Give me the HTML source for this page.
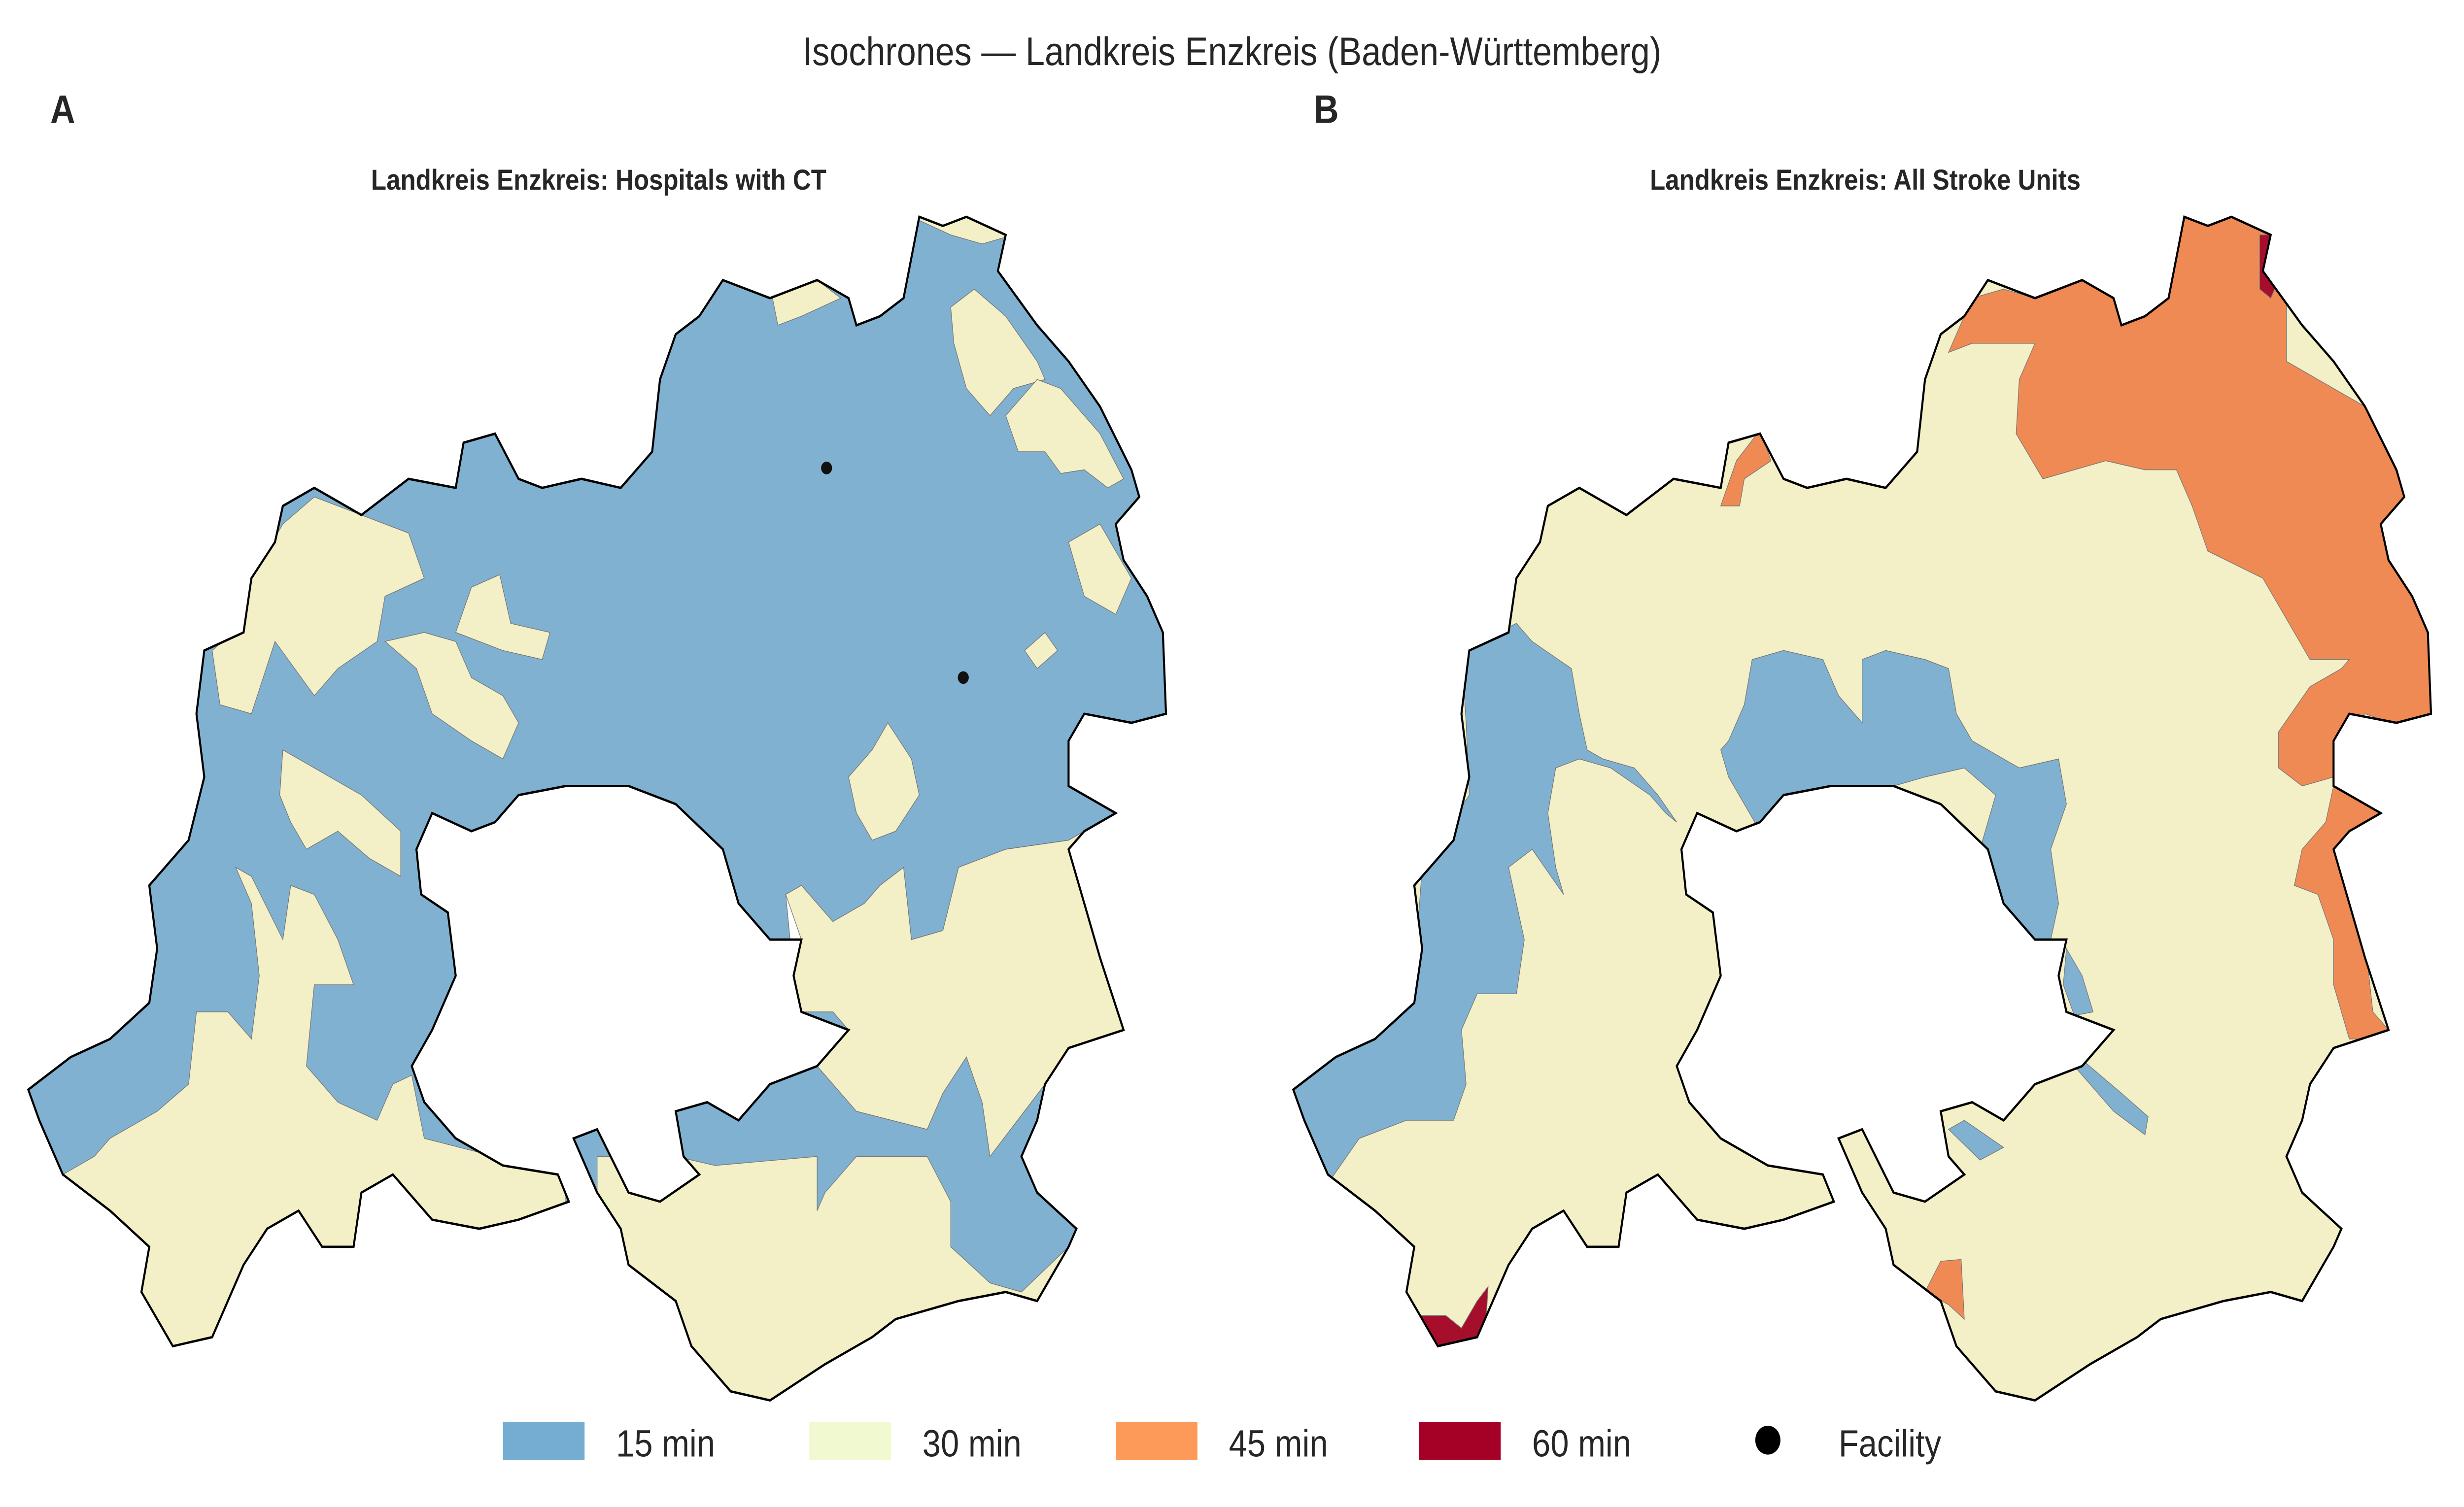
<!DOCTYPE html>
<html><head><meta charset="utf-8"><style>
html,body{margin:0;padding:0;background:#fff;width:100%;height:100%;overflow:hidden}
svg{display:block;width:100vw;height:100vh}
text{font-family:"Liberation Sans",sans-serif;fill:#262626}
</style></head><body>
<svg id="fig" viewBox="0 0 1568 834" preserveAspectRatio="none" xmlns="http://www.w3.org/2000/svg">
<text x="784" y="36" text-anchor="middle" font-size="22">Isochrones — Landkreis Enzkreis (Baden-Württemberg)</text>
<text x="32" y="68" font-size="22" font-weight="bold">A</text>
<text x="836" y="68" font-size="22" font-weight="bold">B</text>
<text x="381" y="105" text-anchor="middle" font-size="16" font-weight="bold">Landkreis Enzkreis: Hospitals with CT</text>
<text x="1187" y="105" text-anchor="middle" font-size="16" font-weight="bold">Landkreis Enzkreis: All Stroke Units</text>
<defs><clipPath id="clipA"><polygon id="outlinePts"/></clipPath></defs>
<g id="mapA" clip-path="url(#clipA)"></g>
<g id="mapB" transform="translate(805,0)"><g id="mapBin" clip-path="url(#clipA)"></g></g>
<g id="legend"></g>
</svg>
<script>
const NS='http://www.w3.org/2000/svg';
const outline=[[18,603],[45,585],[70,575],[95,555],[100,525],[95,490],[120,465],[130,430],[125,395],[130,360],[155,350],[160,320],[175,300],[180,280],[200,270],[230,285],[260,265],[290,270],[295,245],[315,240],[330,265],[345,270],[370,265],[395,270],[415,250],[420,210],[430,185],[445,175],[460,155],[490,165],[520,155],[540,165],[545,180],[560,175],[575,165],[585,120],[600,125],[615,120],[640,130],[635,150],[660,180],[680,200],[700,225],[720,260],[725,275],[710,290],[715,310],[730,330],[740,350],[742,395],[720,400],[690,395],[680,410],[680,435],[710,450],[690,460],[680,470],[690,500],[700,530],[715,570],[680,580],[665,600],[660,620],[650,640],[660,660],[685,680],[680,690],[660,720],[640,715],[610,720],[570,730],[555,740],[525,755],[490,775],[465,770],[440,745],[430,720],[400,700],[395,680],[380,660],[365,630],[380,625],[400,660],[420,665],[445,650],[435,640],[430,615],[450,610],[470,620],[490,600],[520,590],[540,570],[510,560],[505,540],[510,520],[490,520],[470,500],[460,470],[430,445],[400,435],[360,435],[330,440],[315,455],[300,460],[275,450],[265,470],[268,495],[285,505],[290,540],[275,570],[262,590],[270,610],[290,630],[320,645],[355,650],[362,665],[330,675],[305,680],[275,675],[250,650],[230,660],[225,690],[205,690],[190,670],[170,680],[155,700],[145,720],[135,740],[110,745],[90,715],[95,690],[70,670],[40,650],[25,620]];
const categories=['15 min','30 min','45 min','60 min'];
const fillColors=['#80b1d0','#f3efc6','#f08a55','#a50f2c'];
const legendColors=['#74add1','#f0f9d0','#fd9a5a','#a50026'];
const facilities=[[526,259],[613,375]];
const zonesA=[
[0,[[10,100],[750,100],[750,470],[700,455],[680,465],[640,470],[610,480],[600,515],[580,520],[575,480],[560,490],[550,500],[530,510],[510,490],[500,495],[505,540],[510,560],[530,560],[540,570],[520,590],[545,615],[590,625],[600,605],[615,585],[625,610],[630,640],[665,600],[700,660],[700,780],[10,780]]],
[1,[[135,360],[155,345],[160,320],[180,290],[200,275],[230,285],[260,295],[270,320],[245,330],[240,355],[215,370],[200,385],[175,355],[160,395],[140,390]]],
[1,[[245,355],[270,350],[290,355],[300,375],[320,385],[330,400],[320,420],[300,410],[275,395],[265,370]]],
[1,[[290,350],[300,325],[318,318],[325,345],[350,350],[345,365],[320,360]]],
[1,[[180,415],[200,425],[230,440],[255,460],[255,485],[235,475],[215,460],[195,470],[185,455],[178,440]]],
[1,[[10,660],[40,650],[60,640],[70,630],[100,615],[120,600],[125,560],[145,560],[160,575],[165,540],[160,500],[150,480],[160,485],[180,520],[185,490],[200,495],[215,520],[225,545],[200,545],[195,590],[215,610],[240,620],[250,600],[262,595],[270,630],[360,650],[360,780],[10,780]]],
[1,[[580,120],[620,115],[645,130],[625,135],[605,130]]],
[1,[[490,158],[520,155],[535,165],[510,175],[495,180]]],
[1,[[605,170],[620,160],[640,175],[660,200],[665,210],[645,215],[630,230],[615,215],[607,190]]],
[1,[[640,230],[660,210],[675,215],[700,240],[715,265],[705,270],[690,260],[675,262],[665,250],[648,250]]],
[1,[[680,300],[700,290],[720,320],[710,340],[690,330]]],
[1,[[652,360],[665,350],[673,360],[660,370]]],
[1,[[540,430],[555,415],[565,400],[580,420],[585,440],[570,460],[555,465],[545,450]]],
[1,[[500,495],[510,490],[530,510],[550,500],[560,490],[575,480],[580,520],[600,515],[610,480],[640,470],[680,465],[700,455],[690,500],[715,570],[680,580],[665,600],[630,640],[625,610],[615,585],[600,605],[590,625],[545,615],[520,590],[540,570],[530,560],[510,560],[505,540],[510,520]]],
[1,[[380,640],[430,640],[455,645],[520,640],[520,670],[525,660],[545,640],[590,640],[605,665],[605,690],[630,710],[650,715],[680,690],[700,700],[700,780],[380,780]]]
];
const zonesB=[
[1,[[10,100],[750,100],[750,780],[10,780]]],
[2,[[435,195],[450,165],[470,160],[490,165],[520,155],[540,165],[560,175],[575,165],[580,115],[650,115],[650,200],[700,225],[720,260],[725,275],[710,290],[715,310],[735,330],[750,350],[750,410],[700,395],[685,405],[680,430],[660,435],[645,425],[645,405],[665,380],[685,370],[690,365],[665,365],[655,350],[635,320],[600,305],[590,280],[580,260],[560,260],[535,255],[495,265],[478,240],[480,210],[490,190],[450,190]]],
[2,[[680,435],[700,440],[715,450],[695,470],[690,500],[700,520],[705,560],[720,575],[690,575],[680,545],[680,520],[670,495],[655,490],[660,470],[675,455]]],
[2,[[290,280],[300,255],[315,238],[322,255],[305,265],[302,280]]],
[2,[[420,715],[430,698],[443,697],[445,730],[435,722]]],
[3,[[633,130],[650,130],[650,145],[640,165],[633,160]]],
[3,[[98,728],[115,728],[125,735],[135,720],[142,712],[140,740],[125,750],[105,748]]],
[0,[[125,360],[160,345],[170,355],[195,370],[200,395],[205,415],[215,420],[235,425],[250,440],[262,455],[255,450],[245,440],[220,425],[200,420],[185,425],[180,450],[185,480],[190,495],[170,470],[155,480],[165,520],[160,550],[135,550],[125,570],[128,600],[120,620],[90,620],[60,630],[40,655],[10,620],[10,600],[60,575],[95,540],[100,480],[130,440],[128,400]]],
[0,[[295,410],[305,390],[310,365],[330,360],[355,365],[365,385],[380,400],[380,365],[395,360],[420,365],[435,370],[440,395],[450,410],[470,420],[480,425],[505,420],[510,445],[500,470],[505,500],[500,520],[490,520],[470,500],[455,470],[465,440],[445,425],[420,430],[400,435],[360,435],[330,440],[315,460],[305,445],[295,430],[290,415]]],
[0,[[510,525],[520,540],[527,560],[515,562],[508,545]]],
[0,[[515,590],[522,588],[545,605],[562,618],[560,628],[540,615]]],
[0,[[435,625],[445,620],[470,635],[455,642]]]
];
const pts=p=>p.map(q=>q.join(',')).join(' ');
document.getElementById('outlinePts').setAttribute('points',pts(outline));
function drawZones(g,zones,name){
  zones.forEach((z,i)=>{
    const el=document.createElementNS(NS,'polygon');
    el.setAttribute('points',pts(z[1]));
    el.setAttribute('fill',fillColors[z[0]]);
    el.setAttribute('stroke','#777');el.setAttribute('stroke-width','0.4');
    
    
    g.appendChild(el);
  });
}
function drawOutline(g,name){
  const o=document.createElementNS(NS,'polygon');
  o.setAttribute('points',pts(outline));
  o.setAttribute('fill','none');o.setAttribute('stroke','#000');o.setAttribute('stroke-width','1.3');
  
  
  g.appendChild(o);
}
drawZones(document.getElementById('mapA'),zonesA,'panel-a');
drawZones(document.getElementById('mapBin'),zonesB,'panel-b');
const svg=document.getElementById('fig');
drawOutline(svg,'panel-a-outline');
drawOutline(document.getElementById('mapB'),'panel-b-outline');
facilities.forEach((f,i)=>{
  const c=document.createElementNS(NS,'circle');
  c.setAttribute('cx',f[0]);c.setAttribute('cy',f[1]);c.setAttribute('r','3.5');c.setAttribute('fill','#111');
  
  
  svg.appendChild(c);
});
const lg=document.getElementById('legend');
const legendX=[320,515,710,903];
categories.forEach((c,i)=>{
  const r=document.createElementNS(NS,'rect');
  r.setAttribute('x',legendX[i]);r.setAttribute('y',787);r.setAttribute('width',52);r.setAttribute('height',21);
  r.setAttribute('fill',legendColors[i]);
  
  
  lg.appendChild(r);
  const t=document.createElementNS(NS,'text');
  t.setAttribute('x',legendX[i]+72);t.setAttribute('y',806);t.setAttribute('font-size','21');
  t.textContent=c;
  
  
  lg.appendChild(t);
});
const fd=document.createElementNS(NS,'circle');
fd.setAttribute('cx',1125);fd.setAttribute('cy',797);fd.setAttribute('r',8);fd.setAttribute('fill','#000');


lg.appendChild(fd);
const ft=document.createElementNS(NS,'text');
ft.setAttribute('x',1170);ft.setAttribute('y',806);ft.setAttribute('font-size','21');ft.textContent='Facility';


lg.appendChild(ft);
</script>
</body></html>
